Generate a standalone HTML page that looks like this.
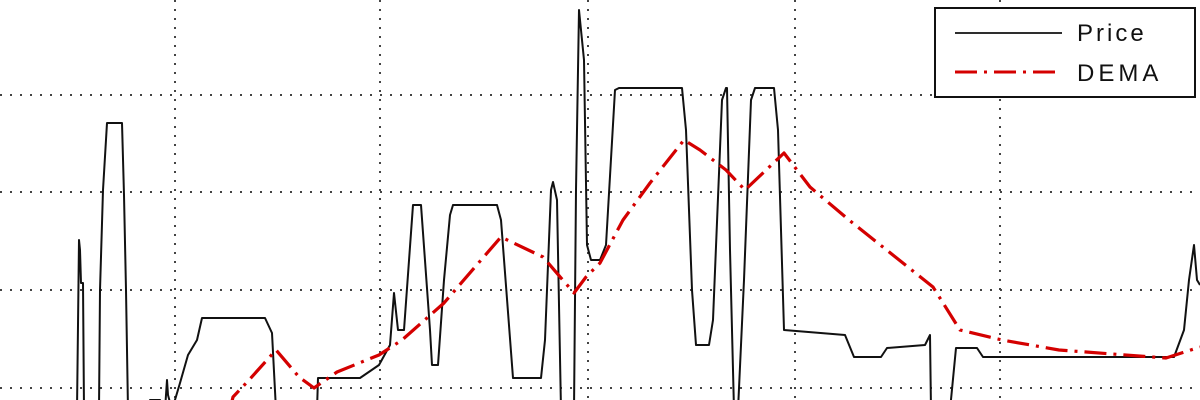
<!DOCTYPE html>
<html><head><meta charset="utf-8"><style>
html,body{margin:0;padding:0;background:#fff;}
svg{display:block;}
</style></head><body>
<svg id="chart" width="1200" height="400" viewBox="0 0 1200 400" xmlns="http://www.w3.org/2000/svg">
<g id="grid"></g>
<g id="series"></g>
<g>
<rect x="935" y="8" width="260" height="89" fill="#fff" stroke="#111" stroke-width="2"/>
<line x1="955" y1="33" x2="1062" y2="33" stroke="#111" stroke-width="1.8"/>
<text x="1077" y="41" font-family="Liberation Sans, sans-serif" font-size="24" letter-spacing="3" fill="#111">Price</text>
<line x1="955" y1="72" x2="1062" y2="72" stroke="#d40000" stroke-width="3" stroke-dasharray="22,7,3,7"/>
<text x="1077" y="81" font-family="Liberation Sans, sans-serif" font-size="24" letter-spacing="4" fill="#111">DEMA</text>
</g>
</svg>
<script>
const xGridTicks=[175,380,588,795,1000];
const yGridTicks=[1.2,11,20.8,30.5];
const priceT=[0,77,78,79,80,81,83,84,99,100,103,107,122,124,126,128,148,150,160,165,167,168,172,180,188,197,202,265,272,276,317,318,360,379,390,394,398,404,413,421,430,432,438,444,450,453,497,501,513,541,545,551,553,557,561,574,576,579,584,587,591,600,606,615,619,682,686,692,696,709,713,722,726,727,730,734,738,744,751,755,774,778,784,845,854,881,887,925,930,931,950,956,977,983,1174,1184,1189,1194,1197,1200];
const priceV=[-1,-1,7.5,16,15,11.7,11.7,-1,-1,11,21,27.7,27.7,20.5,11,-1,-1,0,0,-1,2,0.5,-1,1.7,4.5,6,8.2,8.2,6.7,-1,-1,2.2,2.2,3.5,5.5,10.7,7,7,19.5,19.5,7,3.5,3.5,12,18.5,19.5,19.5,18,2.2,2.2,6,21,21.8,20,-1,-1,21,39,34,15.5,14,14,15.5,31,31.2,31.2,27,11,5.5,5.5,8,30,31.2,31.2,15,-1,-1,12,30,31.2,31.2,27,7,6.5,4.3,4.3,5.2,5.5,6.5,-1,-1,5.2,5.2,4.3,4.3,7,12,15.5,12,11.5];
const demaT=[230,233,249,276,299,314,337,379,402,444,475,501,543,574,586,600,623,650,684,700,726,745,784,810,849,933,960,1002,1059,1166,1200];
const demaV=[-1,0.3,2,5,2.3,1.2,2.8,4.5,6,9.7,13.3,16.3,14.3,10.7,12.3,13.7,18,21.7,26,25,23,21,24.7,21.3,18,11.3,7,6,5,4.2,5.3];
const xs=t=>t*1.0;
const ys=v=>400-v*10;
const NS='http://www.w3.org/2000/svg';
const grid=document.getElementById('grid');
xGridTicks.forEach(t=>{
 const l=document.createElementNS(NS,'line');
 
 
 l.setAttribute('x1',xs(t));l.setAttribute('x2',xs(t));l.setAttribute('y1',0);l.setAttribute('y2',400);
 l.setAttribute('stroke','#444');l.setAttribute('stroke-width','2');l.setAttribute('stroke-dasharray','2,7');
 grid.appendChild(l);
});
yGridTicks.forEach(v=>{
 const l=document.createElementNS(NS,'line');
 
 
 l.setAttribute('x1',0);l.setAttribute('x2',1200);l.setAttribute('y1',ys(v));l.setAttribute('y2',ys(v));
 l.setAttribute('stroke','#444');l.setAttribute('stroke-width','2');l.setAttribute('stroke-dasharray','2,8');
 grid.appendChild(l);
});
const ser=document.getElementById('series');
function pl(T,V,name,color,w,dash){
 const p=document.createElementNS(NS,'polyline');
 
 
 p.setAttribute('points',T.map((t,i)=>xs(t)+','+ys(V[i])).join(' '));
 p.setAttribute('fill','none');p.setAttribute('stroke',color);p.setAttribute('stroke-width',w);
 p.setAttribute('stroke-linejoin','round');
 if(dash)p.setAttribute('stroke-dasharray',dash);
 ser.appendChild(p);
}
pl(priceT,priceV,'price-line','#111','2',null);
pl(demaT,demaV,'dema-line','#d40000','3.2','22,7,3,7');
</script>
</body></html>
